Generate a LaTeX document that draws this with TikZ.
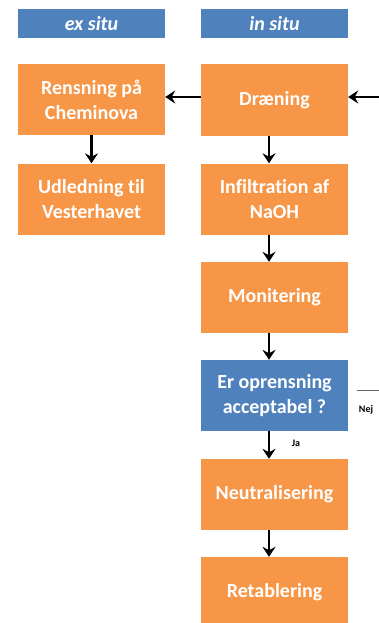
\documentclass[tikz,border=0pt]{standalone}
\usepackage{fontspec}
\setmainfont[Ligatures=NoCommon]{Carlito}
\usetikzlibrary{arrows.meta}
\definecolor{boxorange}{HTML}{F79646}
\definecolor{boxblue}{HTML}{4F81BD}
\begin{document}
\begin{tikzpicture}[x=1pt, y=-1pt,
    stepbox/.style={fill=boxorange, text=white, font=\fontsize{20}{25}\selectfont\bfseries,
        minimum width=147pt, minimum height=71pt, align=center, inner sep=0pt},
    askbox/.style={stepbox, fill=boxblue},
    headbox/.style={fill=boxblue, text=white, font=\fontsize{20}{22}\selectfont\bfseries\itshape,
        minimum width=147pt, minimum height=29pt, inner sep=0pt},
    flow/.style={line width=2.8pt, -{Stealth[length=10pt,width=13pt,inset=3.5pt]}},
    small/.style={font=\fontsize{10}{12}\selectfont\bfseries}]
                \useasboundingbox (0,0) rectangle (379,623);

                \node[headbox] (EX) at (91.5,23.5) {ex situ};
                \node[headbox] (IN) at (274.5,23.5) {in situ};

                \node[stepbox] (REN) at (91.5,99.5) {Rensning på\\Cheminova};
                \node[stepbox] (UDL) at (91.5,199) {Udledning til\\Vesterhavet};

                \node[stepbox] (DRA) at (274.5,100) {Dræning};
                \node[stepbox] (INF) at (274.5,199) {Infiltration af\\NaOH};
                \node[stepbox] (MON) at (274.5,297.5) {Monitering};
                \node[askbox] (ACC) at (274.5,395.5) {Er oprensning\\acceptabel ?};
                \node[stepbox] (NEU) at (274.5,494.5) {Neutralisering};
                \node[stepbox] (RET) at (274.5,592.5) {Retablering};

                \node[small] (JA) at (296,443) {Ja};
                \node[small] (NEJ) at (366,410) {Nej};

                \coordinate (LOOPIN) at (380,97);
                \coordinate (LOOPOUT) at (380,390);

                \draw[flow] (DRA.west |- 0,97) -- (REN.east |- 0,97);
                \draw[flow] (LOOPIN) -- (DRA.east |- 0,97);
                \draw[flow] (REN) -- (UDL);
                \draw[flow] ([xshift=-5.5pt]DRA.south) -- ([xshift=-5.5pt]INF.north);
                \draw[flow] ([xshift=-5.5pt]INF.south) -- ([xshift=-5.5pt]MON.north);
                \draw[flow] ([xshift=-5.5pt]MON.south) -- ([xshift=-5.5pt]ACC.north);
                \draw[flow] ([xshift=-5.5pt]ACC.south) -- ([xshift=-5.5pt]NEU.north);
                \draw[flow] ([xshift=-5.5pt]NEU.south) -- ([xshift=-5.5pt]RET.north);
                \draw[gray!80!black, line width=1pt] (ACC.east |- 0,390) ++(9,0) -- (LOOPOUT);
            \end{tikzpicture}
\end{document}
